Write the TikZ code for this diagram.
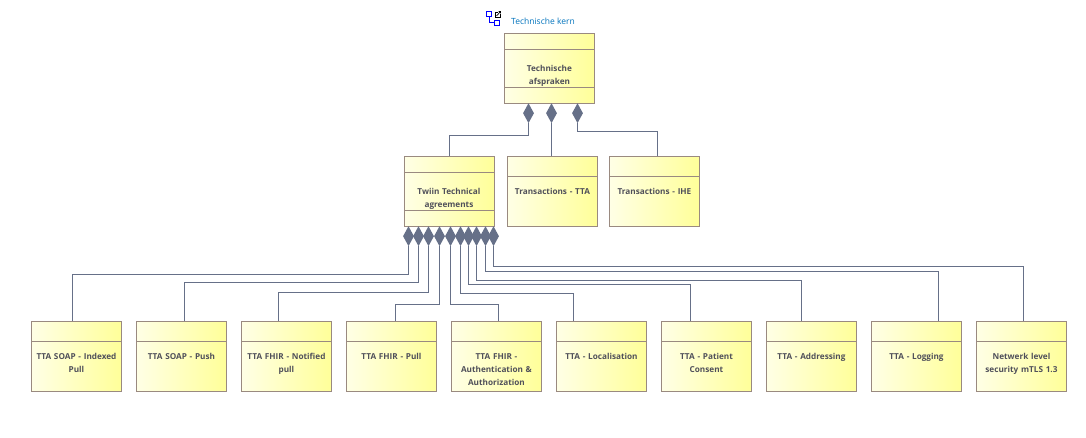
\documentclass[tikz,border=0pt]{standalone}
\usepackage{xcolor}
\usepackage{fontspec}
\setmainfont{Open Sans}
\usetikzlibrary{calc, positioning, shapes.geometric}

\definecolor{boxline}{HTML}{9A8A80}
\definecolor{connline}{HTML}{667088}
\definecolor{boxtext}{HTML}{50505A}
\definecolor{kerntext}{HTML}{0072BC}

\begin{document}
\begin{tikzpicture}[x=1pt, y=-1pt,
		      blok/.style = {draw=boxline, line width=0.9pt, rectangle, left color=yellow!10, right color=yellow!40,
		      text=boxtext, font=\bfseries\fontsize{8.2}{13}\selectfont, text width=87pt, align=center,
		      inner xsep=1.5pt, inner ysep=0pt, text height=38pt, text depth=32pt, anchor=north west},
		      bars/.style = {path picture={\foreach \b in {#1}
		      \draw[boxline, line width=0.9pt] ([yshift=-\b]path picture bounding box.north west) -- ([yshift=-\b]path picture bounding box.north east);}},
		      ruit/.style = {diamond, fill=connline, inner sep=0pt, minimum width=11pt, minimum height=20pt, anchor=north},
		      conn/.style = {draw=connline, line width=0.9pt},
		      icoon/.style = {draw=blue, fill=white, line width=1pt, inner sep=0pt, minimum size=5.5pt} ]
\useasboundingbox (0,0) rectangle (1086,438);

% title with its icon
\draw[blue, line width=1pt] (489,14) |- (497,23);
\node[icoon] (iconA) at (489,14) {};
\node[icoon] (iconB) at (497,23) {};
\draw[black, line width=0.7pt] (498,12) -- (495.5,12) -- (495.5,17) -- (500,17) -- (500,14.5);
\draw[black, line width=0.7pt] (496.5,16) -- (500.5,11.5) (498.5,11.5) -- (500.5,11.5) -- (500.5,13.5);
\node[anchor=west, inner sep=0pt, text=kerntext, font=\fontsize{8.5}{10}\selectfont] (kern) at (511,21.5) {Technische kern};

% upper rows
\node[blok, bars={16pt,54pt}] (afspraken) at (504,33) {Technische\\afspraken};
\node[blok, bars={16pt,54pt}] (twiin) at (403.5,156) {Twiin Technical\\agreements};
\node[blok, bars={20pt}] (tta) at (507,156) {Transactions - TTA};
\node[blok, bars={20pt}] (ihe) at (609,156) {Transactions - IHE};

\node[ruit] (r1) at (528.5,103) {};
\node[ruit] (r2) at (551.5,103) {};
\node[ruit] (r3) at (577.5,103) {};
\coordinate (twiintop) at ($(twiin.north west)+(46,0)$);
\coordinate (ihetop) at ($(ihe.north west)+(48.5,0)$);
\path[conn] (r1.south) |- (449.5,135.5) -- (twiintop);
\path[conn] (r2.south) -- (r2.south |- tta.north);
\path[conn] (r3.south) |- (657.5,131.5) -- (ihetop);

% lower row
\foreach \i/\tx/\txt in {1/31/{TTA SOAP - Indexed\\Pull}, 2/136/{TTA SOAP - Push}, 3/241/{TTA FHIR - Notified\\pull},
    4/346/{TTA FHIR - Pull}, 5/451/{TTA FHIR -\\Authentication \&\\Authorization}, 6/556/{TTA - Localisation},
    7/661/{TTA - Patient\\Consent}, 8/766/{TTA - Addressing}, 9/871/{TTA - Logging}, 10/976/{Netwerk level\\security mTLS 1.3}}
  \node[blok, bars={20pt}] (t\i) at (\tx,321) {\txt};

\foreach \i/\rx/\hy/\off in {1/408.5/274.5/41.5, 2/418.5/282.5/48.5, 3/428.5/292.5/37.5, 4/439.5/304.5/49.5, 5/450.5/304.5/47.5,
    6/460.5/293.5/17.5, 7/468.5/284.5/29.5, 8/476.5/280.5/35.5, 9/485.5/271.5/67.5, 10/493.5/266.5/47.5}
{
  \node[ruit] (d\i) at (\rx,226) {};
  \path[conn] (d\i.south) |- ($(t\i.north west)+(\off,\hy-321)$) -- ($(t\i.north west)+(\off,0)$);
}
\end{tikzpicture}
\end{document}
